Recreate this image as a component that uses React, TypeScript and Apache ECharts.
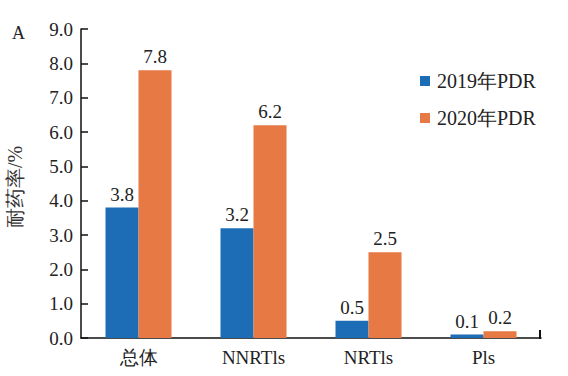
import React, { useEffect, useRef } from "react";
import * as echarts from "echarts";

const categories = ["总体", "NNRTls", "NRTls", "Pls"];
const pdr2019 = [3.8, 3.2, 0.5, 0.1];
const pdr2020 = [7.8, 6.2, 2.5, 0.2];
const seriesNames = ["2019年PDR", "2020年PDR"];
const FONT = "Liberation Serif, serif";

export default function App() {
  const ref = useRef<HTMLDivElement>(null);
  useEffect(() => {
    document.body.style.margin = "0";
    const chart = echarts.init(ref.current!, null, { renderer: "svg" });
    const labelStyle = {
      show: true,
      position: "top" as const,
      distance: 4,
      fontFamily: FONT,
      fontSize: 19,
      color: "#222",
      formatter: (p: any) => p.value.toFixed(1),
    };
    chart.setOption({
      animation: false,
      textStyle: { fontFamily: FONT },
      grid: { left: 81, top: 29, right: 27, bottom: 38, containLabel: false },
      legend: {
        orient: "vertical",
        left: 415,
        top: 66,
        itemWidth: 10,
        itemHeight: 10,
        itemGap: 17,
        icon: "rect",
        textStyle: { fontFamily: FONT, fontSize: 20, color: "#222", padding: [0, 0, 0, 2] },
        data: seriesNames,
      },
      graphic: [
        {
          type: "text",
          left: 12,
          top: 24,
          style: { text: "A", fontFamily: FONT, fontSize: 18, fill: "#222" },
        },
        {
          type: "text",
          x: 15,
          y: 187,
          rotation: Math.PI / 2,
          style: {
            text: "耐药率/%",
            fontFamily: FONT,
            fontSize: 20,
            fill: "#333",
            align: "center",
            verticalAlign: "middle",
          },
        },
        {
          type: "line",
          shape: { x1: 540, y1: 330, x2: 540, y2: 339 },
          style: { stroke: "#111", lineWidth: 2 },
        },
      ],
      xAxis: {
        type: "category",
        data: categories,
        axisLine: { lineStyle: { color: "#111", width: 1.5 } },
        axisTick: { show: false },
        axisLabel: { fontFamily: FONT, fontSize: 19, color: "#222", margin: 10 },
      },
      yAxis: {
        type: "value",
        min: 0,
        max: 9,
        interval: 1,
        splitLine: { show: false },
        axisLine: { show: true, lineStyle: { color: "#111", width: 1.5 } },
        axisTick: { show: true, inside: true, length: 7, lineStyle: { color: "#111", width: 1.5 } },
        axisLabel: {
          fontFamily: FONT,
          fontSize: 19,
          color: "#222",
          margin: 8,
          formatter: (v: number) => v.toFixed(1),
        },
      },
      series: [
        {
          name: seriesNames[0],
          type: "bar",
          data: pdr2019,
          barWidth: 33,
          barGap: "0%",
          itemStyle: { color: "#1c6db5" },
          label: labelStyle,
        },
        {
          name: seriesNames[1],
          type: "bar",
          data: pdr2020,
          barWidth: 33,
          itemStyle: { color: "#e67944" },
          label: labelStyle,
        },
      ],
    });
    return () => chart.dispose();
  }, []);
  return <div ref={ref} style={{ width: 568, height: 376 }} />;
}
